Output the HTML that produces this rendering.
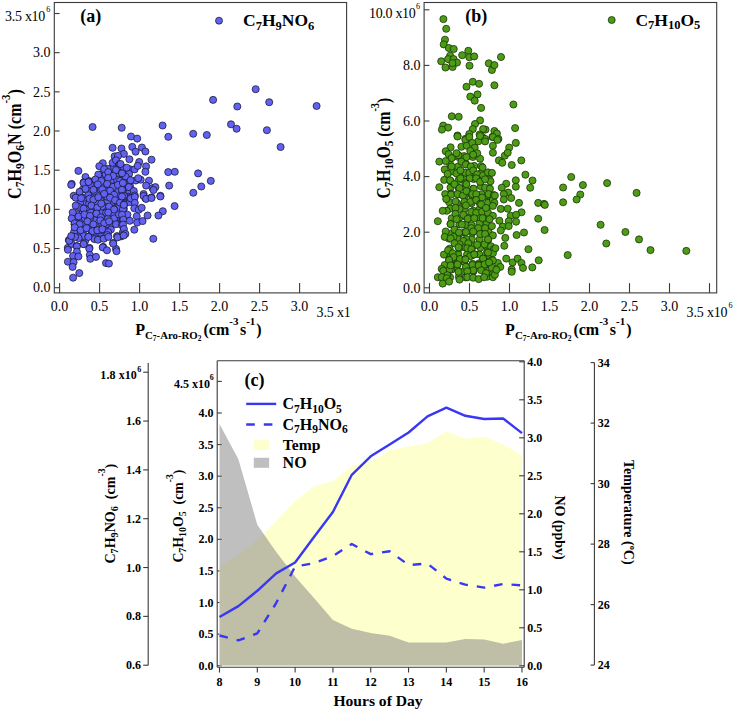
<!DOCTYPE html>
<html><head><meta charset="utf-8"><style>
html,body{margin:0;padding:0;background:#fff;}
svg{display:block;font-family:"Liberation Serif", serif;}
text{fill:#000;}
</style></head><body>
<svg width="734" height="711" viewBox="0 0 734 711">
<clipPath id="clipA"><rect x="0" y="0" width="350.5" height="350"/></clipPath>
<g clip-path="url(#clipA)">
<g fill="#6262f2" stroke="#15152e" stroke-width="0.75">
<circle cx="83.6" cy="203.3" r="3.55"/>
<circle cx="118.8" cy="217.5" r="3.55"/>
<circle cx="106.7" cy="185.8" r="3.55"/>
<circle cx="130.1" cy="186.3" r="3.55"/>
<circle cx="127.6" cy="190.7" r="3.55"/>
<circle cx="111.0" cy="225.1" r="3.55"/>
<circle cx="111.4" cy="198.0" r="3.55"/>
<circle cx="106.0" cy="229.4" r="3.55"/>
<circle cx="105.7" cy="207.3" r="3.55"/>
<circle cx="101.9" cy="173.9" r="3.55"/>
<circle cx="74.5" cy="224.4" r="3.55"/>
<circle cx="123.9" cy="208.8" r="3.55"/>
<circle cx="83.3" cy="230.6" r="3.55"/>
<circle cx="117.4" cy="174.0" r="3.55"/>
<circle cx="122.4" cy="185.7" r="3.55"/>
<circle cx="80.0" cy="203.3" r="3.55"/>
<circle cx="79.8" cy="235.2" r="3.55"/>
<circle cx="89.2" cy="207.8" r="3.55"/>
<circle cx="100.2" cy="234.5" r="3.55"/>
<circle cx="89.8" cy="181.2" r="3.55"/>
<circle cx="124.8" cy="178.3" r="3.55"/>
<circle cx="78.1" cy="219.3" r="3.55"/>
<circle cx="112.5" cy="185.3" r="3.55"/>
<circle cx="113.2" cy="203.6" r="3.55"/>
<circle cx="111.5" cy="219.9" r="3.55"/>
<circle cx="122.9" cy="190.9" r="3.55"/>
<circle cx="100.0" cy="197.2" r="3.55"/>
<circle cx="100.3" cy="230.3" r="3.55"/>
<circle cx="74.2" cy="231.6" r="3.55"/>
<circle cx="117.3" cy="206.9" r="3.55"/>
<circle cx="129.7" cy="169.2" r="3.55"/>
<circle cx="78.6" cy="195.7" r="3.55"/>
<circle cx="85.0" cy="218.6" r="3.55"/>
<circle cx="111.2" cy="190.3" r="3.55"/>
<circle cx="129.9" cy="180.8" r="3.55"/>
<circle cx="96.2" cy="179.9" r="3.55"/>
<circle cx="128.7" cy="196.8" r="3.55"/>
<circle cx="123.4" cy="175.0" r="3.55"/>
<circle cx="100.6" cy="184.9" r="3.55"/>
<circle cx="91.2" cy="230.3" r="3.55"/>
<circle cx="122.3" cy="168.1" r="3.55"/>
<circle cx="110.9" cy="229.5" r="3.55"/>
<circle cx="100.3" cy="200.7" r="3.55"/>
<circle cx="102.0" cy="213.0" r="3.55"/>
<circle cx="73.9" cy="220.0" r="3.55"/>
<circle cx="94.3" cy="197.3" r="3.55"/>
<circle cx="77.8" cy="214.1" r="3.55"/>
<circle cx="84.5" cy="197.6" r="3.55"/>
<circle cx="94.1" cy="218.3" r="3.55"/>
<circle cx="95.0" cy="226.0" r="3.55"/>
<circle cx="116.4" cy="184.6" r="3.55"/>
<circle cx="102.2" cy="219.2" r="3.55"/>
<circle cx="116.4" cy="223.1" r="3.55"/>
<circle cx="90.6" cy="190.2" r="3.55"/>
<circle cx="94.9" cy="208.9" r="3.55"/>
<circle cx="94.6" cy="234.4" r="3.55"/>
<circle cx="135.8" cy="180.5" r="3.55"/>
<circle cx="106.6" cy="181.2" r="3.55"/>
<circle cx="102.1" cy="179.0" r="3.55"/>
<circle cx="122.6" cy="197.0" r="3.55"/>
<circle cx="113.7" cy="208.6" r="3.55"/>
<circle cx="85.2" cy="240.9" r="3.55"/>
<circle cx="83.0" cy="208.3" r="3.55"/>
<circle cx="80.0" cy="229.0" r="3.55"/>
<circle cx="88.4" cy="195.2" r="3.55"/>
<circle cx="83.7" cy="235.9" r="3.55"/>
<circle cx="117.0" cy="164.3" r="3.55"/>
<circle cx="83.4" cy="225.3" r="3.55"/>
<circle cx="82.8" cy="189.5" r="3.55"/>
<circle cx="129.1" cy="173.9" r="3.55"/>
<circle cx="95.4" cy="185.4" r="3.55"/>
<circle cx="96.1" cy="201.9" r="3.55"/>
<circle cx="106.1" cy="212.8" r="3.55"/>
<circle cx="105.9" cy="224.5" r="3.55"/>
<circle cx="118.4" cy="190.9" r="3.55"/>
<circle cx="88.6" cy="225.8" r="3.55"/>
<circle cx="90.0" cy="218.2" r="3.55"/>
<circle cx="112.4" cy="179.7" r="3.55"/>
<circle cx="122.3" cy="213.6" r="3.55"/>
<circle cx="117.1" cy="179.9" r="3.55"/>
<circle cx="119.2" cy="214.6" r="3.55"/>
<circle cx="118.7" cy="196.6" r="3.55"/>
<circle cx="105.6" cy="174.3" r="3.55"/>
<circle cx="112.6" cy="167.7" r="3.55"/>
<circle cx="113.3" cy="213.7" r="3.55"/>
<circle cx="107.7" cy="200.8" r="3.55"/>
<circle cx="107.9" cy="218.9" r="3.55"/>
<circle cx="119.3" cy="169.7" r="3.55"/>
<circle cx="102.2" cy="206.4" r="3.55"/>
<circle cx="105.6" cy="191.1" r="3.55"/>
<circle cx="90.0" cy="184.5" r="3.55"/>
<circle cx="107.1" cy="196.7" r="3.55"/>
<circle cx="89.2" cy="203.5" r="3.55"/>
<circle cx="107.6" cy="168.8" r="3.55"/>
<circle cx="78.4" cy="206.9" r="3.55"/>
<circle cx="83.0" cy="212.4" r="3.55"/>
<circle cx="124.5" cy="203.6" r="3.55"/>
<circle cx="91.0" cy="212.5" r="3.55"/>
<circle cx="90.0" cy="236.1" r="3.55"/>
<circle cx="96.2" cy="213.7" r="3.55"/>
<circle cx="118.0" cy="201.2" r="3.55"/>
<circle cx="129.6" cy="202.2" r="3.55"/>
<circle cx="77.4" cy="223.6" r="3.55"/>
<circle cx="112.8" cy="174.7" r="3.55"/>
<circle cx="96.0" cy="230.7" r="3.55"/>
<circle cx="100.5" cy="189.7" r="3.55"/>
<circle cx="94.2" cy="191.4" r="3.55"/>
<circle cx="123.9" cy="217.8" r="3.55"/>
<circle cx="102.2" cy="224.0" r="3.55"/>
<circle cx="213.1" cy="99.9" r="3.55"/>
<circle cx="237.3" cy="106.5" r="3.55"/>
<circle cx="255.7" cy="89.2" r="3.55"/>
<circle cx="269.2" cy="102.2" r="3.55"/>
<circle cx="316.6" cy="106.0" r="3.55"/>
<circle cx="193.2" cy="133.8" r="3.55"/>
<circle cx="206.8" cy="135.0" r="3.55"/>
<circle cx="231.0" cy="124.3" r="3.55"/>
<circle cx="236.6" cy="128.7" r="3.55"/>
<circle cx="266.9" cy="130.2" r="3.55"/>
<circle cx="280.6" cy="147.0" r="3.55"/>
<circle cx="92.6" cy="127.0" r="3.55"/>
<circle cx="121.7" cy="127.8" r="3.55"/>
<circle cx="162.6" cy="125.5" r="3.55"/>
<circle cx="131.0" cy="136.5" r="3.55"/>
<circle cx="137.2" cy="138.6" r="3.55"/>
<circle cx="168.3" cy="136.8" r="3.55"/>
<circle cx="112.6" cy="147.8" r="3.55"/>
<circle cx="121.5" cy="148.5" r="3.55"/>
<circle cx="123.9" cy="153.9" r="3.55"/>
<circle cx="114.6" cy="156.4" r="3.55"/>
<circle cx="118.0" cy="155.9" r="3.55"/>
<circle cx="112.6" cy="162.8" r="3.55"/>
<circle cx="116.0" cy="160.3" r="3.55"/>
<circle cx="119.5" cy="164.2" r="3.55"/>
<circle cx="102.8" cy="163.2" r="3.55"/>
<circle cx="99.3" cy="166.2" r="3.55"/>
<circle cx="104.2" cy="169.1" r="3.55"/>
<circle cx="78.4" cy="170.9" r="3.55"/>
<circle cx="116.0" cy="170.1" r="3.55"/>
<circle cx="123.9" cy="168.2" r="3.55"/>
<circle cx="108.2" cy="172.1" r="3.55"/>
<circle cx="113.1" cy="176.0" r="3.55"/>
<circle cx="98.3" cy="174.6" r="3.55"/>
<circle cx="85.5" cy="177.0" r="3.55"/>
<circle cx="121.9" cy="173.1" r="3.55"/>
<circle cx="71.7" cy="183.9" r="3.55"/>
<circle cx="83.6" cy="182.4" r="3.55"/>
<circle cx="88.5" cy="181.5" r="3.55"/>
<circle cx="95.4" cy="179.5" r="3.55"/>
<circle cx="101.3" cy="181.0" r="3.55"/>
<circle cx="108.2" cy="178.0" r="3.55"/>
<circle cx="120.0" cy="181.0" r="3.55"/>
<circle cx="132.3" cy="146.9" r="3.55"/>
<circle cx="141.9" cy="147.5" r="3.55"/>
<circle cx="145.4" cy="151.5" r="3.55"/>
<circle cx="135.6" cy="151.7" r="3.55"/>
<circle cx="129.4" cy="159.3" r="3.55"/>
<circle cx="151.5" cy="159.7" r="3.55"/>
<circle cx="139.2" cy="162.0" r="3.55"/>
<circle cx="120.5" cy="164.0" r="3.55"/>
<circle cx="126.7" cy="167.7" r="3.55"/>
<circle cx="146.1" cy="166.4" r="3.55"/>
<circle cx="134.6" cy="169.4" r="3.55"/>
<circle cx="137.7" cy="165.9" r="3.55"/>
<circle cx="145.4" cy="171.8" r="3.55"/>
<circle cx="168.2" cy="172.1" r="3.55"/>
<circle cx="174.8" cy="171.8" r="3.55"/>
<circle cx="125.7" cy="176.8" r="3.55"/>
<circle cx="122.0" cy="173.3" r="3.55"/>
<circle cx="140.7" cy="179.7" r="3.55"/>
<circle cx="138.2" cy="178.2" r="3.55"/>
<circle cx="149.0" cy="180.7" r="3.55"/>
<circle cx="169.2" cy="185.6" r="3.55"/>
<circle cx="123.9" cy="182.7" r="3.55"/>
<circle cx="130.6" cy="180.2" r="3.55"/>
<circle cx="146.1" cy="185.6" r="3.55"/>
<circle cx="152.5" cy="188.1" r="3.55"/>
<circle cx="155.4" cy="187.1" r="3.55"/>
<circle cx="122.0" cy="189.6" r="3.55"/>
<circle cx="128.9" cy="187.1" r="3.55"/>
<circle cx="133.8" cy="191.0" r="3.55"/>
<circle cx="143.6" cy="194.0" r="3.55"/>
<circle cx="160.4" cy="195.8" r="3.55"/>
<circle cx="151.5" cy="197.4" r="3.55"/>
<circle cx="145.6" cy="198.4" r="3.55"/>
<circle cx="129.8" cy="197.9" r="3.55"/>
<circle cx="123.9" cy="196.0" r="3.55"/>
<circle cx="134.8" cy="195.5" r="3.55"/>
<circle cx="71.2" cy="184.9" r="3.55"/>
<circle cx="83.6" cy="183.0" r="3.55"/>
<circle cx="88.5" cy="182.0" r="3.55"/>
<circle cx="97.8" cy="184.4" r="3.55"/>
<circle cx="107.2" cy="183.9" r="3.55"/>
<circle cx="113.1" cy="186.9" r="3.55"/>
<circle cx="118.0" cy="184.9" r="3.55"/>
<circle cx="122.9" cy="183.0" r="3.55"/>
<circle cx="79.6" cy="191.8" r="3.55"/>
<circle cx="85.5" cy="188.9" r="3.55"/>
<circle cx="93.4" cy="189.8" r="3.55"/>
<circle cx="102.3" cy="189.4" r="3.55"/>
<circle cx="110.1" cy="190.8" r="3.55"/>
<circle cx="114.1" cy="194.8" r="3.55"/>
<circle cx="121.9" cy="189.8" r="3.55"/>
<circle cx="123.9" cy="195.8" r="3.55"/>
<circle cx="73.7" cy="195.8" r="3.55"/>
<circle cx="75.7" cy="197.7" r="3.55"/>
<circle cx="81.1" cy="198.2" r="3.55"/>
<circle cx="89.5" cy="198.7" r="3.55"/>
<circle cx="93.4" cy="199.7" r="3.55"/>
<circle cx="98.3" cy="197.2" r="3.55"/>
<circle cx="104.2" cy="193.8" r="3.55"/>
<circle cx="110.1" cy="197.7" r="3.55"/>
<circle cx="115.1" cy="200.2" r="3.55"/>
<circle cx="120.0" cy="202.6" r="3.55"/>
<circle cx="123.9" cy="204.6" r="3.55"/>
<circle cx="75.7" cy="205.6" r="3.55"/>
<circle cx="83.6" cy="208.6" r="3.55"/>
<circle cx="91.4" cy="205.6" r="3.55"/>
<circle cx="97.3" cy="207.6" r="3.55"/>
<circle cx="101.3" cy="203.6" r="3.55"/>
<circle cx="109.1" cy="206.6" r="3.55"/>
<circle cx="114.1" cy="209.5" r="3.55"/>
<circle cx="122.9" cy="209.5" r="3.55"/>
<circle cx="72.7" cy="212.5" r="3.55"/>
<circle cx="78.6" cy="216.4" r="3.55"/>
<circle cx="84.5" cy="214.5" r="3.55"/>
<circle cx="90.0" cy="215.9" r="3.55"/>
<circle cx="96.4" cy="213.5" r="3.55"/>
<circle cx="100.8" cy="217.4" r="3.55"/>
<circle cx="108.2" cy="212.5" r="3.55"/>
<circle cx="114.1" cy="218.4" r="3.55"/>
<circle cx="119.0" cy="214.5" r="3.55"/>
<circle cx="122.9" cy="219.4" r="3.55"/>
<circle cx="71.7" cy="218.4" r="3.55"/>
<circle cx="74.7" cy="223.3" r="3.55"/>
<circle cx="79.6" cy="224.3" r="3.55"/>
<circle cx="87.5" cy="221.4" r="3.55"/>
<circle cx="93.4" cy="224.3" r="3.55"/>
<circle cx="100.3" cy="220.4" r="3.55"/>
<circle cx="104.2" cy="223.3" r="3.55"/>
<circle cx="109.1" cy="221.4" r="3.55"/>
<circle cx="116.0" cy="224.3" r="3.55"/>
<circle cx="121.9" cy="225.3" r="3.55"/>
<circle cx="74.7" cy="227.3" r="3.55"/>
<circle cx="80.6" cy="230.2" r="3.55"/>
<circle cx="86.5" cy="228.2" r="3.55"/>
<circle cx="92.4" cy="231.2" r="3.55"/>
<circle cx="97.3" cy="230.2" r="3.55"/>
<circle cx="102.3" cy="229.2" r="3.55"/>
<circle cx="108.2" cy="232.2" r="3.55"/>
<circle cx="117.0" cy="236.1" r="3.55"/>
<circle cx="122.9" cy="232.2" r="3.55"/>
<circle cx="68.8" cy="240.1" r="3.55"/>
<circle cx="73.7" cy="236.6" r="3.55"/>
<circle cx="78.6" cy="238.1" r="3.55"/>
<circle cx="88.5" cy="236.6" r="3.55"/>
<circle cx="94.4" cy="239.1" r="3.55"/>
<circle cx="98.3" cy="239.1" r="3.55"/>
<circle cx="104.2" cy="238.1" r="3.55"/>
<circle cx="107.2" cy="235.1" r="3.55"/>
<circle cx="113.1" cy="243.0" r="3.55"/>
<circle cx="67.8" cy="247.9" r="3.55"/>
<circle cx="71.7" cy="244.0" r="3.55"/>
<circle cx="76.7" cy="246.0" r="3.55"/>
<circle cx="83.6" cy="244.0" r="3.55"/>
<circle cx="89.5" cy="247.9" r="3.55"/>
<circle cx="103.2" cy="246.9" r="3.55"/>
<circle cx="116.0" cy="248.9" r="3.55"/>
<circle cx="122.0" cy="196.5" r="3.55"/>
<circle cx="130.8" cy="198.4" r="3.55"/>
<circle cx="134.8" cy="197.0" r="3.55"/>
<circle cx="143.6" cy="196.0" r="3.55"/>
<circle cx="146.1" cy="198.9" r="3.55"/>
<circle cx="151.5" cy="198.0" r="3.55"/>
<circle cx="160.4" cy="196.5" r="3.55"/>
<circle cx="123.9" cy="204.8" r="3.55"/>
<circle cx="134.8" cy="202.9" r="3.55"/>
<circle cx="174.6" cy="206.1" r="3.55"/>
<circle cx="134.3" cy="208.3" r="3.55"/>
<circle cx="138.7" cy="209.8" r="3.55"/>
<circle cx="141.7" cy="207.8" r="3.55"/>
<circle cx="162.8" cy="211.2" r="3.55"/>
<circle cx="158.4" cy="215.5" r="3.55"/>
<circle cx="147.6" cy="215.5" r="3.55"/>
<circle cx="136.7" cy="216.2" r="3.55"/>
<circle cx="127.4" cy="214.7" r="3.55"/>
<circle cx="122.0" cy="214.7" r="3.55"/>
<circle cx="123.4" cy="219.6" r="3.55"/>
<circle cx="129.8" cy="220.8" r="3.55"/>
<circle cx="137.2" cy="222.6" r="3.55"/>
<circle cx="142.6" cy="221.1" r="3.55"/>
<circle cx="123.0" cy="224.5" r="3.55"/>
<circle cx="134.3" cy="229.7" r="3.55"/>
<circle cx="123.9" cy="229.0" r="3.55"/>
<circle cx="125.4" cy="233.9" r="3.55"/>
<circle cx="121.0" cy="236.4" r="3.55"/>
<circle cx="153.3" cy="238.8" r="3.55"/>
<circle cx="69.3" cy="240.7" r="3.55"/>
<circle cx="75.0" cy="236.9" r="3.55"/>
<circle cx="71.2" cy="236.0" r="3.55"/>
<circle cx="83.6" cy="244.1" r="3.55"/>
<circle cx="88.4" cy="236.9" r="3.55"/>
<circle cx="97.9" cy="239.8" r="3.55"/>
<circle cx="103.6" cy="238.8" r="3.55"/>
<circle cx="108.4" cy="236.9" r="3.55"/>
<circle cx="117.5" cy="237.4" r="3.55"/>
<circle cx="123.7" cy="235.5" r="3.55"/>
<circle cx="67.9" cy="249.8" r="3.55"/>
<circle cx="76.9" cy="246.4" r="3.55"/>
<circle cx="76.9" cy="251.7" r="3.55"/>
<circle cx="89.3" cy="248.8" r="3.55"/>
<circle cx="102.7" cy="247.4" r="3.55"/>
<circle cx="107.0" cy="250.3" r="3.55"/>
<circle cx="113.2" cy="243.6" r="3.55"/>
<circle cx="116.5" cy="251.2" r="3.55"/>
<circle cx="73.1" cy="256.0" r="3.55"/>
<circle cx="78.4" cy="256.5" r="3.55"/>
<circle cx="89.8" cy="255.0" r="3.55"/>
<circle cx="90.3" cy="258.8" r="3.55"/>
<circle cx="96.0" cy="256.9" r="3.55"/>
<circle cx="67.9" cy="261.7" r="3.55"/>
<circle cx="73.6" cy="262.2" r="3.55"/>
<circle cx="72.6" cy="266.9" r="3.55"/>
<circle cx="106.0" cy="263.1" r="3.55"/>
<circle cx="108.9" cy="263.6" r="3.55"/>
<circle cx="79.3" cy="273.1" r="3.55"/>
<circle cx="73.1" cy="277.7" r="3.55"/>
<circle cx="198.1" cy="173.4" r="3.55"/>
<circle cx="210.8" cy="180.9" r="3.55"/>
<circle cx="201.3" cy="186.5" r="3.55"/>
<circle cx="193.3" cy="192.8" r="3.55"/>
<circle cx="153.5" cy="190.0" r="3.55"/>
</g>
<rect x="54.3" y="2.5" width="292.30" height="290.40" fill="none" stroke="#3a3a3a" stroke-width="1.1"/>
<line x1="54.30" y1="287.70" x2="59.60" y2="287.70" stroke="#3a3a3a" stroke-width="1.1" />
<text x="50.40" y="292.40" font-size="14" font-weight="normal" text-anchor="end" >0.0</text>
<line x1="54.30" y1="248.53" x2="59.60" y2="248.53" stroke="#3a3a3a" stroke-width="1.1" />
<text x="50.40" y="253.23" font-size="14" font-weight="normal" text-anchor="end" >0.5</text>
<line x1="54.30" y1="209.36" x2="59.60" y2="209.36" stroke="#3a3a3a" stroke-width="1.1" />
<text x="50.40" y="214.06" font-size="14" font-weight="normal" text-anchor="end" >1.0</text>
<line x1="54.30" y1="170.19" x2="59.60" y2="170.19" stroke="#3a3a3a" stroke-width="1.1" />
<text x="50.40" y="174.89" font-size="14" font-weight="normal" text-anchor="end" >1.5</text>
<line x1="54.30" y1="131.02" x2="59.60" y2="131.02" stroke="#3a3a3a" stroke-width="1.1" />
<text x="50.40" y="135.72" font-size="14" font-weight="normal" text-anchor="end" >2.0</text>
<line x1="54.30" y1="91.85" x2="59.60" y2="91.85" stroke="#3a3a3a" stroke-width="1.1" />
<text x="50.40" y="96.55" font-size="14" font-weight="normal" text-anchor="end" >2.5</text>
<line x1="54.30" y1="52.68" x2="59.60" y2="52.68" stroke="#3a3a3a" stroke-width="1.1" />
<text x="50.40" y="57.38" font-size="14" font-weight="normal" text-anchor="end" >3.0</text>
<line x1="54.30" y1="13.51" x2="59.60" y2="13.51" stroke="#3a3a3a" stroke-width="1.1" />
<text x="45.30" y="21.40" font-size="14" font-weight="normal" text-anchor="end" textLength="40.2" lengthAdjust="spacing">3.5 x10</text>
<text x="46.30" y="12.20" font-size="8.2" font-weight="normal" text-anchor="start" >6</text>
<line x1="59.60" y1="292.90" x2="59.60" y2="283.10" stroke="#3a3a3a" stroke-width="1.1" />
<text x="59.60" y="311.30" font-size="14" font-weight="normal" text-anchor="middle" >0.0</text>
<line x1="99.60" y1="292.90" x2="99.60" y2="283.10" stroke="#3a3a3a" stroke-width="1.1" />
<text x="99.60" y="311.30" font-size="14" font-weight="normal" text-anchor="middle" >0.5</text>
<line x1="139.60" y1="292.90" x2="139.60" y2="283.10" stroke="#3a3a3a" stroke-width="1.1" />
<text x="139.60" y="311.30" font-size="14" font-weight="normal" text-anchor="middle" >1.0</text>
<line x1="179.60" y1="292.90" x2="179.60" y2="283.10" stroke="#3a3a3a" stroke-width="1.1" />
<text x="179.60" y="311.30" font-size="14" font-weight="normal" text-anchor="middle" >1.5</text>
<line x1="219.60" y1="292.90" x2="219.60" y2="283.10" stroke="#3a3a3a" stroke-width="1.1" />
<text x="219.60" y="311.30" font-size="14" font-weight="normal" text-anchor="middle" >2.0</text>
<line x1="259.60" y1="292.90" x2="259.60" y2="283.10" stroke="#3a3a3a" stroke-width="1.1" />
<text x="259.60" y="311.30" font-size="14" font-weight="normal" text-anchor="middle" >2.5</text>
<line x1="299.60" y1="292.90" x2="299.60" y2="283.10" stroke="#3a3a3a" stroke-width="1.1" />
<text x="299.60" y="311.30" font-size="14" font-weight="normal" text-anchor="middle" >3.0</text>
<line x1="339.60" y1="292.90" x2="339.60" y2="283.10" stroke="#3a3a3a" stroke-width="1.1" />
<text x="316.60" y="316.60" font-size="14" font-weight="normal" text-anchor="start" textLength="41.0" lengthAdjust="spacing">3.5 x10</text>
</g>
<text x="80.30" y="22.40" font-size="18" font-weight="bold" text-anchor="start" >(a)</text>
<circle cx="219.0" cy="20.7" r="3.5" fill="#6262f2" stroke="#15152e" stroke-width="0.75"/>
<text x="243.00" y="25.80" font-weight="bold" text-anchor="start" xml:space="preserve"><tspan font-size="17.50" dy="0.00">C</tspan><tspan font-size="12.50" dy="3.70">7</tspan><tspan font-size="17.50" dy="-3.70">H</tspan><tspan font-size="12.50" dy="3.70">9</tspan><tspan font-size="17.50" dy="-3.70">NO</tspan><tspan font-size="12.50" dy="3.70">6</tspan></text>
<g transform="translate(20.60 198.90) rotate(-90) scale(0.893 1)"><text x="0" y="0" font-weight="bold" text-anchor="start" xml:space="preserve"><tspan font-size="18.00" dy="0.00">C</tspan><tspan font-size="13.00" dy="3.70">7</tspan><tspan font-size="18.00" dy="-3.70">H</tspan><tspan font-size="13.00" dy="3.70">9</tspan><tspan font-size="18.00" dy="-3.70">O</tspan><tspan font-size="13.00" dy="3.70">6</tspan><tspan font-size="18.00" dy="-3.70">N (cm</tspan><tspan font-size="12.00" dy="-10.50">-3</tspan><tspan font-size="18.00" dy="10.50">)</tspan></text></g>
<g transform="translate(135.20 334.90) rotate(0.0001) scale(1.0 1)"><text x="0" y="0" font-weight="bold" text-anchor="start" xml:space="preserve"><tspan font-size="16.00" dy="0.00">P</tspan><tspan font-size="10.80" dy="3.70">C</tspan><tspan font-size="7.50" dy="2.10">7</tspan><tspan font-size="10.80" dy="-2.10">-Aro-RO</tspan><tspan font-size="7.50" dy="2.10">2</tspan><tspan font-size="16.00" dy="-5.80" dx="2">(cm</tspan><tspan font-size="11.00" dy="-10.20">-3</tspan><tspan font-size="16.00" dy="10.20" dx="1.5">s</tspan><tspan font-size="11.00" dy="-10.20">-1</tspan><tspan font-size="16.00" dy="10.20" dx="1">)</tspan></text></g>
<g fill="#4c9c16" stroke="#1a3306" stroke-width="0.8">
<circle cx="473.0" cy="173.8" r="3.55"/>
<circle cx="471.6" cy="255.6" r="3.55"/>
<circle cx="450.0" cy="163.9" r="3.55"/>
<circle cx="458.9" cy="276.8" r="3.55"/>
<circle cx="458.3" cy="254.4" r="3.55"/>
<circle cx="487.1" cy="196.1" r="3.55"/>
<circle cx="449.0" cy="238.6" r="3.55"/>
<circle cx="465.6" cy="277.4" r="3.55"/>
<circle cx="464.7" cy="232.3" r="3.55"/>
<circle cx="479.1" cy="201.8" r="3.55"/>
<circle cx="451.7" cy="218.3" r="3.55"/>
<circle cx="489.0" cy="255.5" r="3.55"/>
<circle cx="486.6" cy="224.0" r="3.55"/>
<circle cx="480.9" cy="186.2" r="3.55"/>
<circle cx="479.3" cy="217.3" r="3.55"/>
<circle cx="449.1" cy="202.1" r="3.55"/>
<circle cx="450.2" cy="262.5" r="3.55"/>
<circle cx="459.3" cy="234.0" r="3.55"/>
<circle cx="451.8" cy="157.6" r="3.55"/>
<circle cx="473.6" cy="179.0" r="3.55"/>
<circle cx="457.7" cy="238.8" r="3.55"/>
<circle cx="458.0" cy="166.5" r="3.55"/>
<circle cx="471.8" cy="239.0" r="3.55"/>
<circle cx="443.9" cy="254.6" r="3.55"/>
<circle cx="466.0" cy="164.0" r="3.55"/>
<circle cx="489.1" cy="216.4" r="3.55"/>
<circle cx="464.1" cy="209.5" r="3.55"/>
<circle cx="464.1" cy="156.1" r="3.55"/>
<circle cx="488.6" cy="231.8" r="3.55"/>
<circle cx="488.9" cy="201.5" r="3.55"/>
<circle cx="449.6" cy="248.7" r="3.55"/>
<circle cx="481.7" cy="179.3" r="3.55"/>
<circle cx="450.5" cy="187.6" r="3.55"/>
<circle cx="473.3" cy="210.7" r="3.55"/>
<circle cx="473.0" cy="188.8" r="3.55"/>
<circle cx="450.6" cy="256.3" r="3.55"/>
<circle cx="450.2" cy="208.6" r="3.55"/>
<circle cx="450.7" cy="181.3" r="3.55"/>
<circle cx="458.5" cy="194.3" r="3.55"/>
<circle cx="472.9" cy="157.0" r="3.55"/>
<circle cx="480.9" cy="233.4" r="3.55"/>
<circle cx="464.2" cy="271.1" r="3.55"/>
<circle cx="467.0" cy="254.6" r="3.55"/>
<circle cx="458.5" cy="187.8" r="3.55"/>
<circle cx="471.6" cy="203.2" r="3.55"/>
<circle cx="457.8" cy="156.8" r="3.55"/>
<circle cx="479.3" cy="254.4" r="3.55"/>
<circle cx="489.0" cy="188.2" r="3.55"/>
<circle cx="450.5" cy="234.0" r="3.55"/>
<circle cx="472.6" cy="263.8" r="3.55"/>
<circle cx="486.6" cy="209.8" r="3.55"/>
<circle cx="450.1" cy="277.4" r="3.55"/>
<circle cx="459.1" cy="218.1" r="3.55"/>
<circle cx="473.5" cy="216.9" r="3.55"/>
<circle cx="459.4" cy="248.2" r="3.55"/>
<circle cx="465.8" cy="224.8" r="3.55"/>
<circle cx="464.9" cy="186.6" r="3.55"/>
<circle cx="487.6" cy="173.6" r="3.55"/>
<circle cx="473.4" cy="271.4" r="3.55"/>
<circle cx="480.3" cy="247.6" r="3.55"/>
<circle cx="487.4" cy="276.7" r="3.55"/>
<circle cx="479.4" cy="223.7" r="3.55"/>
<circle cx="456.9" cy="268.9" r="3.55"/>
<circle cx="471.8" cy="195.1" r="3.55"/>
<circle cx="464.7" cy="196.1" r="3.55"/>
<circle cx="451.3" cy="269.7" r="3.55"/>
<circle cx="479.2" cy="263.3" r="3.55"/>
<circle cx="488.5" cy="270.8" r="3.55"/>
<circle cx="464.7" cy="179.5" r="3.55"/>
<circle cx="480.5" cy="173.5" r="3.55"/>
<circle cx="457.0" cy="203.0" r="3.55"/>
<circle cx="466.2" cy="239.2" r="3.55"/>
<circle cx="457.1" cy="262.8" r="3.55"/>
<circle cx="471.6" cy="225.2" r="3.55"/>
<circle cx="459.5" cy="209.0" r="3.55"/>
<circle cx="451.2" cy="193.7" r="3.55"/>
<circle cx="465.4" cy="216.7" r="3.55"/>
<circle cx="464.2" cy="203.9" r="3.55"/>
<circle cx="444.2" cy="179.9" r="3.55"/>
<circle cx="480.1" cy="158.7" r="3.55"/>
<circle cx="458.8" cy="173.1" r="3.55"/>
<circle cx="474.2" cy="165.9" r="3.55"/>
<circle cx="450.5" cy="223.9" r="3.55"/>
<circle cx="458.7" cy="180.0" r="3.55"/>
<circle cx="479.7" cy="239.2" r="3.55"/>
<circle cx="489.2" cy="179.4" r="3.55"/>
<circle cx="479.3" cy="209.5" r="3.55"/>
<circle cx="481.2" cy="166.2" r="3.55"/>
<circle cx="465.4" cy="172.6" r="3.55"/>
<circle cx="465.3" cy="247.5" r="3.55"/>
<circle cx="473.2" cy="246.2" r="3.55"/>
<circle cx="451.9" cy="171.5" r="3.55"/>
<circle cx="481.1" cy="268.6" r="3.55"/>
<circle cx="464.2" cy="261.9" r="3.55"/>
<circle cx="487.1" cy="262.7" r="3.55"/>
<circle cx="459.4" cy="224.3" r="3.55"/>
<circle cx="488.1" cy="239.9" r="3.55"/>
<circle cx="481.6" cy="194.2" r="3.55"/>
<circle cx="487.0" cy="246.3" r="3.55"/>
<circle cx="472.3" cy="232.8" r="3.55"/>
<circle cx="443.4" cy="19.1" r="3.55"/>
<circle cx="446.2" cy="28.8" r="3.55"/>
<circle cx="445.0" cy="39.7" r="3.55"/>
<circle cx="443.7" cy="44.4" r="3.55"/>
<circle cx="448.8" cy="48.0" r="3.55"/>
<circle cx="453.7" cy="49.0" r="3.55"/>
<circle cx="468.3" cy="50.8" r="3.55"/>
<circle cx="462.2" cy="55.2" r="3.55"/>
<circle cx="469.3" cy="57.2" r="3.55"/>
<circle cx="474.2" cy="56.4" r="3.55"/>
<circle cx="450.1" cy="55.7" r="3.55"/>
<circle cx="448.1" cy="59.1" r="3.55"/>
<circle cx="453.6" cy="59.1" r="3.55"/>
<circle cx="457.0" cy="62.6" r="3.55"/>
<circle cx="441.2" cy="61.3" r="3.55"/>
<circle cx="445.5" cy="67.5" r="3.55"/>
<circle cx="452.6" cy="67.0" r="3.55"/>
<circle cx="452.4" cy="63.1" r="3.55"/>
<circle cx="469.5" cy="65.7" r="3.55"/>
<circle cx="488.8" cy="63.3" r="3.55"/>
<circle cx="491.9" cy="70.0" r="3.55"/>
<circle cx="494.4" cy="65.1" r="3.55"/>
<circle cx="501.0" cy="57.0" r="3.55"/>
<circle cx="472.8" cy="81.8" r="3.55"/>
<circle cx="479.1" cy="83.8" r="3.55"/>
<circle cx="466.5" cy="86.7" r="3.55"/>
<circle cx="494.4" cy="85.3" r="3.55"/>
<circle cx="470.3" cy="96.6" r="3.55"/>
<circle cx="477.5" cy="94.4" r="3.55"/>
<circle cx="474.7" cy="100.7" r="3.55"/>
<circle cx="481.1" cy="107.9" r="3.55"/>
<circle cx="451.8" cy="116.3" r="3.55"/>
<circle cx="458.7" cy="116.8" r="3.55"/>
<circle cx="443.2" cy="125.6" r="3.55"/>
<circle cx="448.1" cy="127.6" r="3.55"/>
<circle cx="441.9" cy="129.6" r="3.55"/>
<circle cx="480.1" cy="120.4" r="3.55"/>
<circle cx="475.0" cy="124.0" r="3.55"/>
<circle cx="472.8" cy="129.1" r="3.55"/>
<circle cx="485.5" cy="129.6" r="3.55"/>
<circle cx="483.1" cy="129.1" r="3.55"/>
<circle cx="457.5" cy="135.5" r="3.55"/>
<circle cx="469.3" cy="134.0" r="3.55"/>
<circle cx="468.3" cy="137.9" r="3.55"/>
<circle cx="479.6" cy="134.5" r="3.55"/>
<circle cx="482.1" cy="136.9" r="3.55"/>
<circle cx="492.4" cy="136.9" r="3.55"/>
<circle cx="494.4" cy="131.0" r="3.55"/>
<circle cx="465.4" cy="138.9" r="3.55"/>
<circle cx="485.1" cy="138.9" r="3.55"/>
<circle cx="513.4" cy="104.5" r="3.55"/>
<circle cx="515.1" cy="128.1" r="3.55"/>
<circle cx="496.9" cy="133.5" r="3.55"/>
<circle cx="498.4" cy="138.9" r="3.55"/>
<circle cx="457.5" cy="136.5" r="3.55"/>
<circle cx="465.4" cy="139.9" r="3.55"/>
<circle cx="469.3" cy="137.0" r="3.55"/>
<circle cx="478.2" cy="141.4" r="3.55"/>
<circle cx="485.1" cy="141.4" r="3.55"/>
<circle cx="492.9" cy="137.0" r="3.55"/>
<circle cx="480.1" cy="136.0" r="3.55"/>
<circle cx="450.6" cy="147.3" r="3.55"/>
<circle cx="461.4" cy="146.8" r="3.55"/>
<circle cx="466.8" cy="145.8" r="3.55"/>
<circle cx="472.3" cy="142.9" r="3.55"/>
<circle cx="474.7" cy="147.8" r="3.55"/>
<circle cx="492.9" cy="145.8" r="3.55"/>
<circle cx="445.7" cy="151.2" r="3.55"/>
<circle cx="448.6" cy="154.2" r="3.55"/>
<circle cx="451.6" cy="158.1" r="3.55"/>
<circle cx="458.5" cy="155.2" r="3.55"/>
<circle cx="466.4" cy="157.2" r="3.55"/>
<circle cx="470.3" cy="150.8" r="3.55"/>
<circle cx="477.2" cy="153.2" r="3.55"/>
<circle cx="473.2" cy="154.7" r="3.55"/>
<circle cx="492.9" cy="152.7" r="3.55"/>
<circle cx="456.5" cy="153.2" r="3.55"/>
<circle cx="439.3" cy="161.6" r="3.55"/>
<circle cx="445.7" cy="161.1" r="3.55"/>
<circle cx="461.4" cy="161.6" r="3.55"/>
<circle cx="465.9" cy="164.5" r="3.55"/>
<circle cx="470.8" cy="166.5" r="3.55"/>
<circle cx="482.6" cy="167.5" r="3.55"/>
<circle cx="444.7" cy="169.5" r="3.55"/>
<circle cx="451.6" cy="166.5" r="3.55"/>
<circle cx="447.6" cy="173.9" r="3.55"/>
<circle cx="456.5" cy="173.4" r="3.55"/>
<circle cx="460.4" cy="170.4" r="3.55"/>
<circle cx="469.3" cy="172.9" r="3.55"/>
<circle cx="473.2" cy="170.4" r="3.55"/>
<circle cx="477.2" cy="174.4" r="3.55"/>
<circle cx="483.1" cy="175.4" r="3.55"/>
<circle cx="488.0" cy="172.4" r="3.55"/>
<circle cx="491.9" cy="172.9" r="3.55"/>
<circle cx="450.1" cy="180.3" r="3.55"/>
<circle cx="454.5" cy="184.2" r="3.55"/>
<circle cx="460.4" cy="178.3" r="3.55"/>
<circle cx="469.8" cy="178.3" r="3.55"/>
<circle cx="465.4" cy="183.2" r="3.55"/>
<circle cx="476.2" cy="178.3" r="3.55"/>
<circle cx="480.1" cy="181.8" r="3.55"/>
<circle cx="490.5" cy="181.3" r="3.55"/>
<circle cx="485.1" cy="179.3" r="3.55"/>
<circle cx="439.3" cy="187.2" r="3.55"/>
<circle cx="459.5" cy="188.2" r="3.55"/>
<circle cx="466.4" cy="184.2" r="3.55"/>
<circle cx="473.7" cy="188.7" r="3.55"/>
<circle cx="485.1" cy="187.7" r="3.55"/>
<circle cx="490.0" cy="188.7" r="3.55"/>
<circle cx="445.2" cy="194.1" r="3.55"/>
<circle cx="451.1" cy="194.6" r="3.55"/>
<circle cx="457.5" cy="194.1" r="3.55"/>
<circle cx="462.9" cy="195.5" r="3.55"/>
<circle cx="466.4" cy="191.1" r="3.55"/>
<circle cx="472.3" cy="194.1" r="3.55"/>
<circle cx="476.2" cy="194.1" r="3.55"/>
<circle cx="482.1" cy="197.5" r="3.55"/>
<circle cx="488.5" cy="194.1" r="3.55"/>
<circle cx="493.9" cy="195.1" r="3.55"/>
<circle cx="446.2" cy="199.0" r="3.55"/>
<circle cx="455.5" cy="201.5" r="3.55"/>
<circle cx="464.4" cy="201.9" r="3.55"/>
<circle cx="470.3" cy="201.9" r="3.55"/>
<circle cx="476.2" cy="200.0" r="3.55"/>
<circle cx="480.1" cy="203.9" r="3.55"/>
<circle cx="488.0" cy="202.9" r="3.55"/>
<circle cx="492.9" cy="200.0" r="3.55"/>
<circle cx="515.8" cy="142.9" r="3.55"/>
<circle cx="509.2" cy="147.6" r="3.55"/>
<circle cx="504.8" cy="155.7" r="3.55"/>
<circle cx="507.7" cy="152.7" r="3.55"/>
<circle cx="498.9" cy="160.4" r="3.55"/>
<circle cx="502.3" cy="162.8" r="3.55"/>
<circle cx="511.7" cy="165.0" r="3.55"/>
<circle cx="521.3" cy="160.4" r="3.55"/>
<circle cx="525.4" cy="174.7" r="3.55"/>
<circle cx="532.5" cy="180.5" r="3.55"/>
<circle cx="515.8" cy="180.3" r="3.55"/>
<circle cx="515.8" cy="186.7" r="3.55"/>
<circle cx="530.2" cy="187.7" r="3.55"/>
<circle cx="506.2" cy="183.7" r="3.55"/>
<circle cx="501.8" cy="187.7" r="3.55"/>
<circle cx="508.2" cy="192.6" r="3.55"/>
<circle cx="503.8" cy="194.1" r="3.55"/>
<circle cx="511.2" cy="198.0" r="3.55"/>
<circle cx="503.8" cy="199.5" r="3.55"/>
<circle cx="494.9" cy="195.5" r="3.55"/>
<circle cx="494.4" cy="202.9" r="3.55"/>
<circle cx="519.0" cy="202.9" r="3.55"/>
<circle cx="538.2" cy="202.9" r="3.55"/>
<circle cx="544.1" cy="203.9" r="3.55"/>
<circle cx="497.4" cy="139.9" r="3.55"/>
<circle cx="446.7" cy="210.8" r="3.55"/>
<circle cx="442.7" cy="210.8" r="3.55"/>
<circle cx="455.5" cy="207.9" r="3.55"/>
<circle cx="455.5" cy="213.8" r="3.55"/>
<circle cx="463.4" cy="214.8" r="3.55"/>
<circle cx="471.3" cy="211.8" r="3.55"/>
<circle cx="476.2" cy="212.8" r="3.55"/>
<circle cx="482.1" cy="211.8" r="3.55"/>
<circle cx="488.0" cy="212.8" r="3.55"/>
<circle cx="492.9" cy="215.8" r="3.55"/>
<circle cx="465.9" cy="205.4" r="3.55"/>
<circle cx="481.1" cy="204.4" r="3.55"/>
<circle cx="486.0" cy="207.9" r="3.55"/>
<circle cx="492.9" cy="205.9" r="3.55"/>
<circle cx="437.8" cy="221.2" r="3.55"/>
<circle cx="456.5" cy="219.2" r="3.55"/>
<circle cx="467.8" cy="218.7" r="3.55"/>
<circle cx="474.2" cy="218.2" r="3.55"/>
<circle cx="482.6" cy="218.2" r="3.55"/>
<circle cx="489.5" cy="219.2" r="3.55"/>
<circle cx="450.6" cy="224.1" r="3.55"/>
<circle cx="461.9" cy="224.6" r="3.55"/>
<circle cx="471.3" cy="228.1" r="3.55"/>
<circle cx="478.2" cy="228.1" r="3.55"/>
<circle cx="485.1" cy="228.1" r="3.55"/>
<circle cx="491.9" cy="226.1" r="3.55"/>
<circle cx="445.7" cy="231.5" r="3.55"/>
<circle cx="454.5" cy="229.5" r="3.55"/>
<circle cx="459.0" cy="232.5" r="3.55"/>
<circle cx="465.9" cy="232.0" r="3.55"/>
<circle cx="473.2" cy="231.5" r="3.55"/>
<circle cx="480.1" cy="234.0" r="3.55"/>
<circle cx="485.1" cy="234.0" r="3.55"/>
<circle cx="492.9" cy="235.4" r="3.55"/>
<circle cx="444.7" cy="236.9" r="3.55"/>
<circle cx="453.6" cy="236.9" r="3.55"/>
<circle cx="450.6" cy="238.4" r="3.55"/>
<circle cx="463.4" cy="240.9" r="3.55"/>
<circle cx="468.3" cy="243.3" r="3.55"/>
<circle cx="459.5" cy="244.3" r="3.55"/>
<circle cx="454.5" cy="243.3" r="3.55"/>
<circle cx="477.2" cy="244.8" r="3.55"/>
<circle cx="484.6" cy="244.3" r="3.55"/>
<circle cx="488.0" cy="239.4" r="3.55"/>
<circle cx="491.0" cy="246.3" r="3.55"/>
<circle cx="493.9" cy="249.2" r="3.55"/>
<circle cx="448.1" cy="250.2" r="3.55"/>
<circle cx="452.6" cy="253.2" r="3.55"/>
<circle cx="458.5" cy="247.3" r="3.55"/>
<circle cx="467.3" cy="248.2" r="3.55"/>
<circle cx="471.3" cy="249.2" r="3.55"/>
<circle cx="474.2" cy="254.1" r="3.55"/>
<circle cx="487.0" cy="252.2" r="3.55"/>
<circle cx="492.9" cy="253.2" r="3.55"/>
<circle cx="449.1" cy="259.6" r="3.55"/>
<circle cx="453.6" cy="257.1" r="3.55"/>
<circle cx="460.0" cy="259.1" r="3.55"/>
<circle cx="465.4" cy="259.1" r="3.55"/>
<circle cx="470.3" cy="256.1" r="3.55"/>
<circle cx="483.1" cy="258.6" r="3.55"/>
<circle cx="491.9" cy="260.1" r="3.55"/>
<circle cx="444.7" cy="265.0" r="3.55"/>
<circle cx="451.6" cy="266.0" r="3.55"/>
<circle cx="457.5" cy="264.0" r="3.55"/>
<circle cx="466.4" cy="266.9" r="3.55"/>
<circle cx="472.3" cy="265.0" r="3.55"/>
<circle cx="478.7" cy="265.0" r="3.55"/>
<circle cx="486.0" cy="264.0" r="3.55"/>
<circle cx="491.9" cy="267.9" r="3.55"/>
<circle cx="441.7" cy="268.9" r="3.55"/>
<circle cx="449.6" cy="269.4" r="3.55"/>
<circle cx="500.8" cy="208.9" r="3.55"/>
<circle cx="507.7" cy="208.7" r="3.55"/>
<circle cx="521.5" cy="212.3" r="3.55"/>
<circle cx="510.7" cy="215.8" r="3.55"/>
<circle cx="516.1" cy="214.8" r="3.55"/>
<circle cx="499.4" cy="220.7" r="3.55"/>
<circle cx="508.7" cy="221.2" r="3.55"/>
<circle cx="516.1" cy="221.7" r="3.55"/>
<circle cx="502.8" cy="226.6" r="3.55"/>
<circle cx="508.7" cy="226.1" r="3.55"/>
<circle cx="500.8" cy="230.5" r="3.55"/>
<circle cx="538.2" cy="218.7" r="3.55"/>
<circle cx="544.6" cy="230.0" r="3.55"/>
<circle cx="516.6" cy="235.0" r="3.55"/>
<circle cx="524.0" cy="232.5" r="3.55"/>
<circle cx="505.3" cy="237.9" r="3.55"/>
<circle cx="504.3" cy="245.8" r="3.55"/>
<circle cx="495.4" cy="248.2" r="3.55"/>
<circle cx="528.4" cy="249.2" r="3.55"/>
<circle cx="506.2" cy="258.6" r="3.55"/>
<circle cx="512.6" cy="262.5" r="3.55"/>
<circle cx="517.6" cy="258.6" r="3.55"/>
<circle cx="521.5" cy="263.0" r="3.55"/>
<circle cx="523.0" cy="267.9" r="3.55"/>
<circle cx="532.3" cy="267.4" r="3.55"/>
<circle cx="538.7" cy="260.3" r="3.55"/>
<circle cx="497.9" cy="263.0" r="3.55"/>
<circle cx="500.3" cy="266.9" r="3.55"/>
<circle cx="511.7" cy="269.4" r="3.55"/>
<circle cx="449.1" cy="260.0" r="3.55"/>
<circle cx="460.0" cy="259.0" r="3.55"/>
<circle cx="465.4" cy="259.5" r="3.55"/>
<circle cx="474.2" cy="254.5" r="3.55"/>
<circle cx="483.1" cy="258.5" r="3.55"/>
<circle cx="488.0" cy="252.6" r="3.55"/>
<circle cx="492.9" cy="260.4" r="3.55"/>
<circle cx="450.6" cy="265.4" r="3.55"/>
<circle cx="457.5" cy="264.4" r="3.55"/>
<circle cx="465.9" cy="266.8" r="3.55"/>
<circle cx="473.2" cy="270.3" r="3.55"/>
<circle cx="478.7" cy="265.4" r="3.55"/>
<circle cx="484.6" cy="264.4" r="3.55"/>
<circle cx="489.0" cy="262.4" r="3.55"/>
<circle cx="443.2" cy="270.8" r="3.55"/>
<circle cx="447.2" cy="275.2" r="3.55"/>
<circle cx="458.5" cy="271.8" r="3.55"/>
<circle cx="467.3" cy="271.3" r="3.55"/>
<circle cx="481.1" cy="270.3" r="3.55"/>
<circle cx="486.0" cy="273.2" r="3.55"/>
<circle cx="492.9" cy="274.2" r="3.55"/>
<circle cx="437.8" cy="277.2" r="3.55"/>
<circle cx="441.7" cy="277.2" r="3.55"/>
<circle cx="446.7" cy="278.2" r="3.55"/>
<circle cx="459.5" cy="279.6" r="3.55"/>
<circle cx="467.3" cy="277.2" r="3.55"/>
<circle cx="473.2" cy="277.7" r="3.55"/>
<circle cx="478.7" cy="279.1" r="3.55"/>
<circle cx="484.1" cy="277.2" r="3.55"/>
<circle cx="492.9" cy="277.2" r="3.55"/>
<circle cx="442.7" cy="283.6" r="3.55"/>
<circle cx="449.1" cy="281.6" r="3.55"/>
<circle cx="511.7" cy="271.8" r="3.55"/>
<circle cx="494.9" cy="274.7" r="3.55"/>
<circle cx="496.4" cy="269.8" r="3.55"/>
<circle cx="571.2" cy="177.0" r="3.55"/>
<circle cx="563.1" cy="187.5" r="3.55"/>
<circle cx="582.9" cy="185.1" r="3.55"/>
<circle cx="580.3" cy="194.5" r="3.55"/>
<circle cx="576.6" cy="199.5" r="3.55"/>
<circle cx="563.1" cy="202.3" r="3.55"/>
<circle cx="544.8" cy="204.9" r="3.55"/>
<circle cx="607.1" cy="183.1" r="3.55"/>
<circle cx="636.6" cy="192.9" r="3.55"/>
<circle cx="600.6" cy="224.8" r="3.55"/>
<circle cx="625.4" cy="232.0" r="3.55"/>
<circle cx="639.0" cy="239.4" r="3.55"/>
<circle cx="606.3" cy="243.5" r="3.55"/>
<circle cx="650.5" cy="250.1" r="3.55"/>
<circle cx="686.3" cy="250.9" r="3.55"/>
<circle cx="567.7" cy="255.1" r="3.55"/>
</g>
<rect x="424.1" y="2.5" width="292.60" height="290.40" fill="none" stroke="#3a3a3a" stroke-width="1.1"/>
<line x1="424.10" y1="287.80" x2="429.40" y2="287.80" stroke="#3a3a3a" stroke-width="1.1" />
<text x="420.40" y="292.50" font-size="14" font-weight="normal" text-anchor="end" >0.0</text>
<line x1="424.10" y1="232.20" x2="429.40" y2="232.20" stroke="#3a3a3a" stroke-width="1.1" />
<text x="420.40" y="236.90" font-size="14" font-weight="normal" text-anchor="end" >2.0</text>
<line x1="424.10" y1="176.60" x2="429.40" y2="176.60" stroke="#3a3a3a" stroke-width="1.1" />
<text x="420.40" y="181.30" font-size="14" font-weight="normal" text-anchor="end" >4.0</text>
<line x1="424.10" y1="121.00" x2="429.40" y2="121.00" stroke="#3a3a3a" stroke-width="1.1" />
<text x="420.40" y="125.70" font-size="14" font-weight="normal" text-anchor="end" >6.0</text>
<line x1="424.10" y1="65.40" x2="429.40" y2="65.40" stroke="#3a3a3a" stroke-width="1.1" />
<text x="420.40" y="70.10" font-size="14" font-weight="normal" text-anchor="end" >8.0</text>
<line x1="424.10" y1="9.80" x2="429.40" y2="9.80" stroke="#3a3a3a" stroke-width="1.1" />
<text x="415.80" y="17.60" font-size="14" font-weight="normal" text-anchor="end" textLength="46.8" lengthAdjust="spacing">10.0 x10</text>
<text x="416.00" y="8.50" font-size="8.2" font-weight="normal" text-anchor="start" >6</text>
<line x1="429.50" y1="292.90" x2="429.50" y2="283.10" stroke="#3a3a3a" stroke-width="1.1" />
<text x="429.50" y="311.30" font-size="14" font-weight="normal" text-anchor="middle" >0.0</text>
<line x1="469.50" y1="292.90" x2="469.50" y2="283.10" stroke="#3a3a3a" stroke-width="1.1" />
<text x="469.50" y="311.30" font-size="14" font-weight="normal" text-anchor="middle" >0.5</text>
<line x1="509.50" y1="292.90" x2="509.50" y2="283.10" stroke="#3a3a3a" stroke-width="1.1" />
<text x="509.50" y="311.30" font-size="14" font-weight="normal" text-anchor="middle" >1.0</text>
<line x1="549.50" y1="292.90" x2="549.50" y2="283.10" stroke="#3a3a3a" stroke-width="1.1" />
<text x="549.50" y="311.30" font-size="14" font-weight="normal" text-anchor="middle" >1.5</text>
<line x1="589.50" y1="292.90" x2="589.50" y2="283.10" stroke="#3a3a3a" stroke-width="1.1" />
<text x="589.50" y="311.30" font-size="14" font-weight="normal" text-anchor="middle" >2.0</text>
<line x1="629.50" y1="292.90" x2="629.50" y2="283.10" stroke="#3a3a3a" stroke-width="1.1" />
<text x="629.50" y="311.30" font-size="14" font-weight="normal" text-anchor="middle" >2.5</text>
<line x1="669.50" y1="292.90" x2="669.50" y2="283.10" stroke="#3a3a3a" stroke-width="1.1" />
<text x="669.50" y="311.30" font-size="14" font-weight="normal" text-anchor="middle" >3.0</text>
<line x1="709.50" y1="292.90" x2="709.50" y2="283.10" stroke="#3a3a3a" stroke-width="1.1" />
<text x="686.60" y="316.70" font-size="14" font-weight="normal" text-anchor="start" textLength="41.0" lengthAdjust="spacing">3.5 x10</text>
<text x="728.50" y="307.70" font-size="8.2" font-weight="normal" text-anchor="start" >6</text>
<text x="465.20" y="22.30" font-size="18" font-weight="bold" text-anchor="start" >(b)</text>
<circle cx="611.7" cy="20.0" r="3.5" fill="#4c9c16" stroke="#1a3306" stroke-width="0.8"/>
<text x="635.40" y="25.50" font-weight="bold" text-anchor="start" xml:space="preserve"><tspan font-size="17.50" dy="0.00">C</tspan><tspan font-size="12.50" dy="3.70">7</tspan><tspan font-size="17.50" dy="-3.70">H</tspan><tspan font-size="12.50" dy="3.70">10</tspan><tspan font-size="17.50" dy="-3.70">O</tspan><tspan font-size="12.50" dy="3.70">5</tspan></text>
<g transform="translate(389.50 198.60) rotate(-90) scale(0.866 1)"><text x="0" y="0" font-weight="bold" text-anchor="start" xml:space="preserve"><tspan font-size="18.00" dy="0.00">C</tspan><tspan font-size="13.00" dy="3.70">7</tspan><tspan font-size="18.00" dy="-3.70">H</tspan><tspan font-size="13.00" dy="3.70">10</tspan><tspan font-size="18.00" dy="-3.70">O</tspan><tspan font-size="13.00" dy="3.70">5</tspan><tspan font-size="18.00" dy="-3.70"> (cm</tspan><tspan font-size="12.00" dy="-10.50">-3</tspan><tspan font-size="18.00" dy="10.50">)</tspan></text></g>
<g transform="translate(505.10 334.90) rotate(0.0001) scale(1.0 1)"><text x="0" y="0" font-weight="bold" text-anchor="start" xml:space="preserve"><tspan font-size="16.00" dy="0.00">P</tspan><tspan font-size="10.80" dy="3.70">C</tspan><tspan font-size="7.50" dy="2.10">7</tspan><tspan font-size="10.80" dy="-2.10">-Aro-RO</tspan><tspan font-size="7.50" dy="2.10">2</tspan><tspan font-size="16.00" dy="-5.80" dx="2">(cm</tspan><tspan font-size="11.00" dy="-10.20">-3</tspan><tspan font-size="16.00" dy="10.20" dx="1.5">s</tspan><tspan font-size="11.00" dy="-10.20">-1</tspan><tspan font-size="16.00" dy="10.20" dx="1">)</tspan></text></g>
<line x1="217.20" y1="665.70" x2="221.80" y2="665.70" stroke="#3a3a3a" stroke-width="1.1" />
<line x1="217.20" y1="634.11" x2="221.80" y2="634.11" stroke="#3a3a3a" stroke-width="1.1" />
<line x1="217.20" y1="602.52" x2="221.80" y2="602.52" stroke="#3a3a3a" stroke-width="1.1" />
<line x1="217.20" y1="570.93" x2="221.80" y2="570.93" stroke="#3a3a3a" stroke-width="1.1" />
<line x1="217.20" y1="539.34" x2="221.80" y2="539.34" stroke="#3a3a3a" stroke-width="1.1" />
<line x1="217.20" y1="507.75" x2="221.80" y2="507.75" stroke="#3a3a3a" stroke-width="1.1" />
<line x1="217.20" y1="476.16" x2="221.80" y2="476.16" stroke="#3a3a3a" stroke-width="1.1" />
<line x1="217.20" y1="444.57" x2="221.80" y2="444.57" stroke="#3a3a3a" stroke-width="1.1" />
<line x1="217.20" y1="412.98" x2="221.80" y2="412.98" stroke="#3a3a3a" stroke-width="1.1" />
<line x1="217.20" y1="381.39" x2="221.80" y2="381.39" stroke="#3a3a3a" stroke-width="1.1" />
<path d="M219.5,665.6 L219.5,567.2 L238.4,554.5 L257.3,540.0 L276.2,521.0 L295.1,501.0 L314.0,486.5 L332.9,481.0 L351.8,466.0 L370.7,461.5 L389.6,450.5 L408.6,446.6 L427.5,443.3 L446.4,431.6 L465.3,438.8 L484.2,436.5 L503.1,444.4 L522.0,455.6 L522.0,665.6 Z" fill="#fdffcc"/>
<path d="M219.5,665.6 L219.5,424.0 L238.4,459.3 L257.3,524.7 L276.2,552.0 L295.1,576.6 L314.0,598.1 L332.9,620.1 L351.8,628.7 L370.7,633.0 L389.6,635.7 L408.6,642.4 L427.5,642.6 L446.4,642.6 L465.3,639.1 L484.2,639.5 L503.1,643.8 L522.0,640.1 L522.0,665.6 Z" fill="#808080" fill-opacity="0.5"/>
<polyline points="219.5,617.0 238.4,606.1 257.3,590.8 276.2,573.4 295.1,562.5 314.0,537.0 332.9,512.0 351.8,474.8 370.7,456.3 389.6,444.4 408.6,432.5 427.5,416.3 446.4,407.7 465.3,415.8 484.2,419.0 503.1,418.5 522.0,433.1" fill="none" stroke="#3838f4" stroke-width="2.4" stroke-linejoin="round"/>
<polyline points="219.5,635.5 238.4,640.3 257.3,633.4 276.2,603.0 295.1,566.5 314.0,563.2 332.9,556.0 351.8,544.0 370.7,554.1 389.6,551.3 408.6,565.0 427.5,563.6 446.4,578.6 465.3,584.6 484.2,587.6 503.1,584.0 522.0,585.4" fill="none" stroke="#3838f4" stroke-width="2.4" stroke-dasharray="8.6,9" stroke-linejoin="round"/>
<line x1="217.20" y1="360.70" x2="524.20" y2="360.70" stroke="#3a3a3a" stroke-width="1.1" />
<line x1="217.20" y1="360.70" x2="217.20" y2="667.30" stroke="#3a3a3a" stroke-width="1.1" />
<line x1="524.20" y1="360.70" x2="524.20" y2="667.30" stroke="#3a3a3a" stroke-width="1.1" />
<line x1="217.20" y1="667.30" x2="524.20" y2="667.30" stroke="#3a3a3a" stroke-width="1.1" />
<text x="213.60" y="669.70" font-size="12" font-weight="bold" text-anchor="end" >0.0</text>
<text x="213.60" y="638.11" font-size="12" font-weight="bold" text-anchor="end" >0.5</text>
<text x="213.60" y="606.52" font-size="12" font-weight="bold" text-anchor="end" >1.0</text>
<text x="213.60" y="574.93" font-size="12" font-weight="bold" text-anchor="end" >1.5</text>
<text x="213.60" y="543.34" font-size="12" font-weight="bold" text-anchor="end" >2.0</text>
<text x="213.60" y="511.75" font-size="12" font-weight="bold" text-anchor="end" >2.5</text>
<text x="213.60" y="480.16" font-size="12" font-weight="bold" text-anchor="end" >3.0</text>
<text x="213.60" y="448.57" font-size="12" font-weight="bold" text-anchor="end" >3.5</text>
<text x="213.60" y="416.98" font-size="12" font-weight="bold" text-anchor="end" >4.0</text>
<text x="209.90" y="387.60" font-size="12" font-weight="bold" text-anchor="end" >4.5 x10</text>
<text x="209.70" y="380.30" font-size="8" font-weight="bold" text-anchor="start" >6</text>
<line x1="524.20" y1="665.80" x2="519.20" y2="665.80" stroke="#3a3a3a" stroke-width="1.1" />
<text x="527.30" y="669.80" font-size="12" font-weight="bold" text-anchor="start" >0.0</text>
<line x1="524.20" y1="627.80" x2="519.20" y2="627.80" stroke="#3a3a3a" stroke-width="1.1" />
<text x="527.30" y="631.80" font-size="12" font-weight="bold" text-anchor="start" >0.5</text>
<line x1="524.20" y1="589.80" x2="519.20" y2="589.80" stroke="#3a3a3a" stroke-width="1.1" />
<text x="527.30" y="593.80" font-size="12" font-weight="bold" text-anchor="start" >1.0</text>
<line x1="524.20" y1="551.80" x2="519.20" y2="551.80" stroke="#3a3a3a" stroke-width="1.1" />
<text x="527.30" y="555.80" font-size="12" font-weight="bold" text-anchor="start" >1.5</text>
<line x1="524.20" y1="513.80" x2="519.20" y2="513.80" stroke="#3a3a3a" stroke-width="1.1" />
<text x="527.30" y="517.80" font-size="12" font-weight="bold" text-anchor="start" >2.0</text>
<line x1="524.20" y1="475.80" x2="519.20" y2="475.80" stroke="#3a3a3a" stroke-width="1.1" />
<text x="527.30" y="479.80" font-size="12" font-weight="bold" text-anchor="start" >2.5</text>
<line x1="524.20" y1="437.80" x2="519.20" y2="437.80" stroke="#3a3a3a" stroke-width="1.1" />
<text x="527.30" y="441.80" font-size="12" font-weight="bold" text-anchor="start" >3.0</text>
<line x1="524.20" y1="399.80" x2="519.20" y2="399.80" stroke="#3a3a3a" stroke-width="1.1" />
<text x="527.30" y="403.80" font-size="12" font-weight="bold" text-anchor="start" >3.5</text>
<line x1="524.20" y1="361.80" x2="519.20" y2="361.80" stroke="#3a3a3a" stroke-width="1.1" />
<text x="527.30" y="365.80" font-size="12" font-weight="bold" text-anchor="start" >4.0</text>
<line x1="219.50" y1="667.30" x2="219.50" y2="672.60" stroke="#3a3a3a" stroke-width="1.1" />
<text x="219.50" y="686.40" font-size="12" font-weight="bold" text-anchor="middle" >8</text>
<line x1="257.31" y1="667.30" x2="257.31" y2="672.60" stroke="#3a3a3a" stroke-width="1.1" />
<text x="257.31" y="686.40" font-size="12" font-weight="bold" text-anchor="middle" >9</text>
<line x1="295.12" y1="667.30" x2="295.12" y2="672.60" stroke="#3a3a3a" stroke-width="1.1" />
<text x="295.12" y="686.40" font-size="12" font-weight="bold" text-anchor="middle" >10</text>
<line x1="332.93" y1="667.30" x2="332.93" y2="672.60" stroke="#3a3a3a" stroke-width="1.1" />
<text x="332.93" y="686.40" font-size="12" font-weight="bold" text-anchor="middle" >11</text>
<line x1="370.74" y1="667.30" x2="370.74" y2="672.60" stroke="#3a3a3a" stroke-width="1.1" />
<text x="370.74" y="686.40" font-size="12" font-weight="bold" text-anchor="middle" >12</text>
<line x1="408.55" y1="667.30" x2="408.55" y2="672.60" stroke="#3a3a3a" stroke-width="1.1" />
<text x="408.55" y="686.40" font-size="12" font-weight="bold" text-anchor="middle" >13</text>
<line x1="446.36" y1="667.30" x2="446.36" y2="672.60" stroke="#3a3a3a" stroke-width="1.1" />
<text x="446.36" y="686.40" font-size="12" font-weight="bold" text-anchor="middle" >14</text>
<line x1="484.17" y1="667.30" x2="484.17" y2="672.60" stroke="#3a3a3a" stroke-width="1.1" />
<text x="484.17" y="686.40" font-size="12" font-weight="bold" text-anchor="middle" >15</text>
<line x1="521.98" y1="667.30" x2="521.98" y2="672.60" stroke="#3a3a3a" stroke-width="1.1" />
<text x="521.98" y="686.40" font-size="12" font-weight="bold" text-anchor="middle" >16</text>
<text x="378.00" y="706.00" font-size="15.6" font-weight="bold" text-anchor="middle" >Hours of Day</text>
<line x1="148.20" y1="363.00" x2="148.20" y2="665.20" stroke="#3a3a3a" stroke-width="1.1" />
<line x1="143.20" y1="665.20" x2="148.20" y2="665.20" stroke="#3a3a3a" stroke-width="1.1" />
<text x="141.00" y="669.20" font-size="12" font-weight="bold" text-anchor="end" >0.6</text>
<line x1="143.20" y1="616.37" x2="148.20" y2="616.37" stroke="#3a3a3a" stroke-width="1.1" />
<text x="141.00" y="620.37" font-size="12" font-weight="bold" text-anchor="end" >0.8</text>
<line x1="143.20" y1="567.54" x2="148.20" y2="567.54" stroke="#3a3a3a" stroke-width="1.1" />
<text x="141.00" y="571.54" font-size="12" font-weight="bold" text-anchor="end" >1.0</text>
<line x1="143.20" y1="518.71" x2="148.20" y2="518.71" stroke="#3a3a3a" stroke-width="1.1" />
<text x="141.00" y="522.71" font-size="12" font-weight="bold" text-anchor="end" >1.2</text>
<line x1="143.20" y1="469.88" x2="148.20" y2="469.88" stroke="#3a3a3a" stroke-width="1.1" />
<text x="141.00" y="473.88" font-size="12" font-weight="bold" text-anchor="end" >1.4</text>
<line x1="143.20" y1="421.05" x2="148.20" y2="421.05" stroke="#3a3a3a" stroke-width="1.1" />
<text x="141.00" y="425.05" font-size="12" font-weight="bold" text-anchor="end" >1.6</text>
<line x1="143.20" y1="372.22" x2="148.20" y2="372.22" stroke="#3a3a3a" stroke-width="1.1" />
<text x="136.80" y="378.90" font-size="12" font-weight="bold" text-anchor="end" textLength="36.5" lengthAdjust="spacing">1.8 x10</text>
<text x="137.20" y="371.50" font-size="8" font-weight="bold" text-anchor="start" >6</text>
<line x1="594.40" y1="362.60" x2="594.40" y2="665.10" stroke="#3a3a3a" stroke-width="1.1" />
<line x1="590.60" y1="665.10" x2="594.40" y2="665.10" stroke="#3a3a3a" stroke-width="1.1" />
<text x="597.80" y="669.10" font-size="12" font-weight="bold" text-anchor="start" >24</text>
<line x1="590.60" y1="604.60" x2="594.40" y2="604.60" stroke="#3a3a3a" stroke-width="1.1" />
<text x="597.80" y="608.60" font-size="12" font-weight="bold" text-anchor="start" >26</text>
<line x1="590.60" y1="544.10" x2="594.40" y2="544.10" stroke="#3a3a3a" stroke-width="1.1" />
<text x="597.80" y="548.10" font-size="12" font-weight="bold" text-anchor="start" >28</text>
<line x1="590.60" y1="483.60" x2="594.40" y2="483.60" stroke="#3a3a3a" stroke-width="1.1" />
<text x="597.80" y="487.60" font-size="12" font-weight="bold" text-anchor="start" >30</text>
<line x1="590.60" y1="423.10" x2="594.40" y2="423.10" stroke="#3a3a3a" stroke-width="1.1" />
<text x="597.80" y="427.10" font-size="12" font-weight="bold" text-anchor="start" >32</text>
<line x1="590.60" y1="362.60" x2="594.40" y2="362.60" stroke="#3a3a3a" stroke-width="1.1" />
<text x="597.80" y="366.60" font-size="12" font-weight="bold" text-anchor="start" >34</text>
<text x="244.60" y="386.30" font-size="18" font-weight="bold" text-anchor="start" >(c)</text>
<line x1="246.20" y1="403.90" x2="276.20" y2="403.90" stroke="#3838f4" stroke-width="2.4" />
<line x1="246.20" y1="424.50" x2="276.20" y2="424.50" stroke="#3838f4" stroke-width="2.4" stroke-dasharray="8.6,9"/>
<rect x="253.8" y="440.1" width="15.3" height="9.5" fill="#fdffcc"/>
<rect x="253.8" y="457.8" width="15.3" height="10" fill="#808080" fill-opacity="0.5"/>
<text x="282.40" y="409.20" font-weight="bold" text-anchor="start" xml:space="preserve"><tspan font-size="16.00" dy="0.00">C</tspan><tspan font-size="11.50" dy="3.30">7</tspan><tspan font-size="16.00" dy="-3.30">H</tspan><tspan font-size="11.50" dy="3.30">10</tspan><tspan font-size="16.00" dy="-3.30">O</tspan><tspan font-size="11.50" dy="3.30">5</tspan></text>
<text x="282.40" y="429.60" font-weight="bold" text-anchor="start" xml:space="preserve"><tspan font-size="16.00" dy="0.00">C</tspan><tspan font-size="11.50" dy="3.30">7</tspan><tspan font-size="16.00" dy="-3.30">H</tspan><tspan font-size="11.50" dy="3.30">9</tspan><tspan font-size="16.00" dy="-3.30">NO</tspan><tspan font-size="11.50" dy="3.30">6</tspan></text>
<text x="282.80" y="449.60" font-size="15.6" font-weight="bold" text-anchor="start" >Temp</text>
<text x="282.60" y="467.80" font-size="16" font-weight="bold" text-anchor="start" >NO</text>
<g transform="translate(114.50 563.60) rotate(-90) scale(0.97 1)"><text x="0" y="0" font-weight="bold" text-anchor="start" xml:space="preserve"><tspan font-size="14.50" dy="0.00">C</tspan><tspan font-size="10.50" dy="3.00">7</tspan><tspan font-size="14.50" dy="-3.00">H</tspan><tspan font-size="10.50" dy="3.00">9</tspan><tspan font-size="14.50" dy="-3.00">NO</tspan><tspan font-size="10.50" dy="3.00">6</tspan><tspan font-size="14.50" dy="-3.00">  (cm</tspan><tspan font-size="10.00" dy="-10.00">-3</tspan><tspan font-size="14.50" dy="10.00">)</tspan></text></g>
<g transform="translate(182.80 562.60) rotate(-90) scale(0.95 1)"><text x="0" y="0" font-weight="bold" text-anchor="start" xml:space="preserve"><tspan font-size="14.50" dy="0.00">C</tspan><tspan font-size="10.50" dy="3.00">7</tspan><tspan font-size="14.50" dy="-3.00">H</tspan><tspan font-size="10.50" dy="3.00">10</tspan><tspan font-size="14.50" dy="-3.00">O</tspan><tspan font-size="10.50" dy="3.00">5</tspan><tspan font-size="14.50" dy="-3.00">  (cm</tspan><tspan font-size="10.00" dy="-10.00">-3</tspan><tspan font-size="14.50" dy="10.00">)</tspan></text></g>
<g transform="translate(554.80 495.40) rotate(90) scale(0.936 1)"><text x="0" y="0" font-weight="bold" text-anchor="start" xml:space="preserve"><tspan font-size="15.00" dy="0.00">NO (ppbv)</tspan></text></g>
<g transform="translate(624.40 460.10) rotate(90) scale(0.93 1)"><text x="0" y="0" font-weight="bold" text-anchor="start" xml:space="preserve"><tspan font-size="15.00" dy="0.00">Temperature (</tspan><tspan font-size="9.00" dy="-6.00">o</tspan><tspan font-size="15.00" dy="6.00">C)</tspan></text></g>
</svg>
</body></html>
